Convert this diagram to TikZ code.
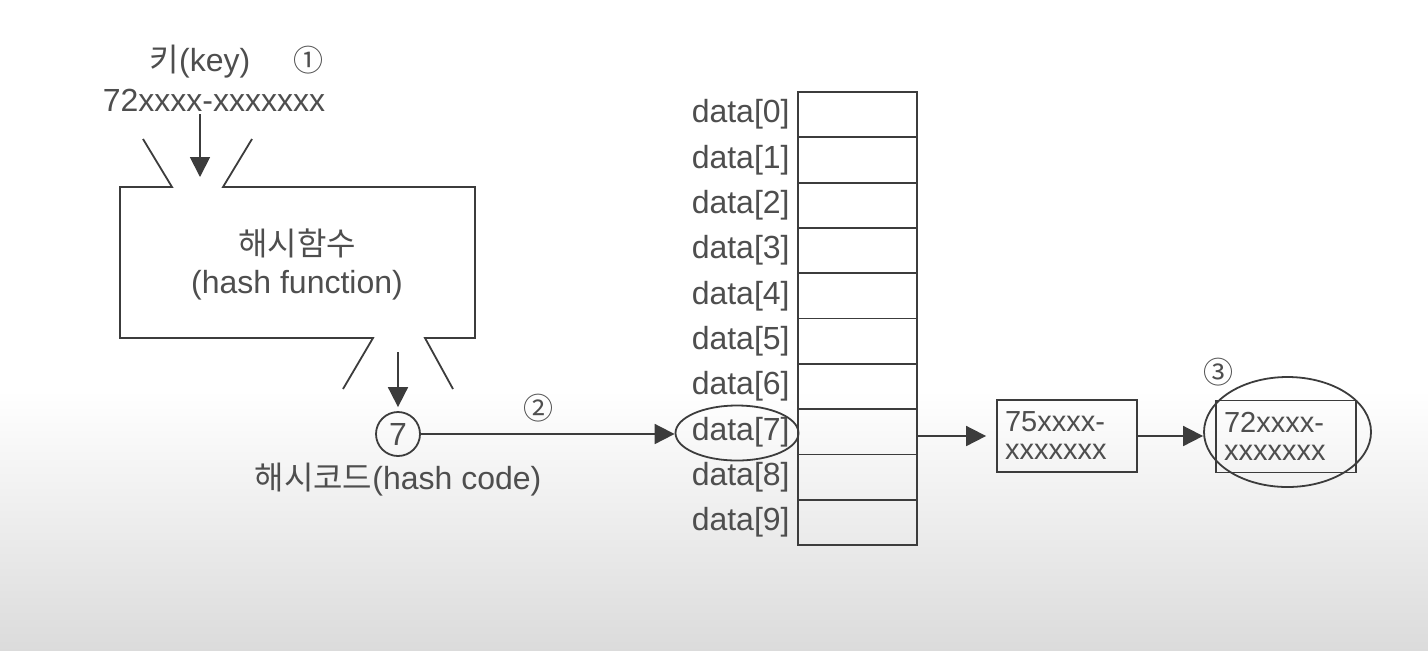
\documentclass[tikz,border=0pt]{standalone}
\usepackage{fontspec}
\setmainfont{Liberation Sans}
\newfontfamily\kofont{Noto Sans CJK KR}
\usetikzlibrary{arrows.meta,positioning,shapes.geometric}
\definecolor{ink}{HTML}{3C3C3C}
\definecolor{txt}{HTML}{4E4E4E}
\tikzset{
lbl/.style={font=\fontsize{16}{19}\selectfont, text=txt, inner sep=0pt},
num/.style={font=\kofont\fontsize{15}{15}\selectfont, text=txt, inner sep=0pt},
cell/.style={draw=ink, line width=0.9pt, minimum width=59.5pt, minimum height=22.65pt, inner sep=0pt, outer sep=0pt},
rec/.style={draw=ink, line width=0.9pt, minimum width=70pt, minimum height=36pt, inner sep=0pt, align=left, text width=62pt, text=txt, font=\fontsize{14.5}{14}\selectfont},
ring/.style={draw=ink, line width=0.9pt, ellipse, inner sep=0pt},
arr/.style={draw=ink, line width=0.9pt, -{Triangle[length=10pt, width=10pt]}}
}
\begin{document}
\begin{tikzpicture}[x=0.5pt, y=-0.5pt]
\useasboundingbox (0,0) rectangle (1428,650);
\fill[white] (0,0) rectangle (1428,390);
\shade[top color=white, bottom color=black!14] (0,390) rectangle (1428,650);
% key and hash function
\node[lbl] (key) at (200,62) {{\kofont 키}(key)};
\node[num] (n1) at (308,60) {①};
\node[lbl] (keyval) at (214,100) {72xxxx-xxxxxxx};
\node[lbl, align=center] (hashfn) at (297,264) {{\kofont 해시함수}\\(hash function)};
\draw[ink, line width=0.9pt] (143,139) -- (172,187) -- (120,187) -- (120,338) -- (373,338) -- (343,389);
\draw[ink, line width=0.9pt] (252,139) -- (223,187) -- (475,187) -- (475,338) -- (425,338) -- (453,389);
\coordinate (inlet) at (200,177);
\coordinate (outlet) at (398,352);
\draw[arr] (200,114) -- (inlet);
\node[lbl, draw=ink, line width=0.9pt, circle, minimum size=22pt] (code) at (398,434) {7};
\node[lbl, below=3pt of code] (codelbl) {{\kofont 해시코드}(hash code)};
\draw[arr, shorten >=2pt] (outlet) -- (code.north);
% table
\foreach \i in {0,...,9} {
\node[cell] (c\i) at (857.5,{114.65+45.3*\i}) {};
\node[lbl, anchor=east] (d\i) at ([xshift=-4pt]c\i.west) {data[\i]};
}
\node[ring, minimum width=61.5pt, minimum height=27.5pt] (sel) at (737,433) {};
\node[num] (n2) at (538,408) {②};
\draw[arr] (code.east) -- (code.east -| sel.west);
% chain
\node[rec] (n75) at (1067,436) {75xxxx-\\xxxxxxx};
\node[rec] (n72) at (1286,436.5) {72xxxx-\\xxxxxxx};
\node[ring, minimum width=83.5pt, minimum height=55pt] (hit) at (1287.5,432) {};
\node[num] (n3) at (1218,372) {③};
\draw[arr, shorten >=5pt] (c7.east |- n75.west) -- (n75.west);
\draw[arr] (n75.east) -- (n75.east -| hit.west);
\end{tikzpicture}
\end{document}
